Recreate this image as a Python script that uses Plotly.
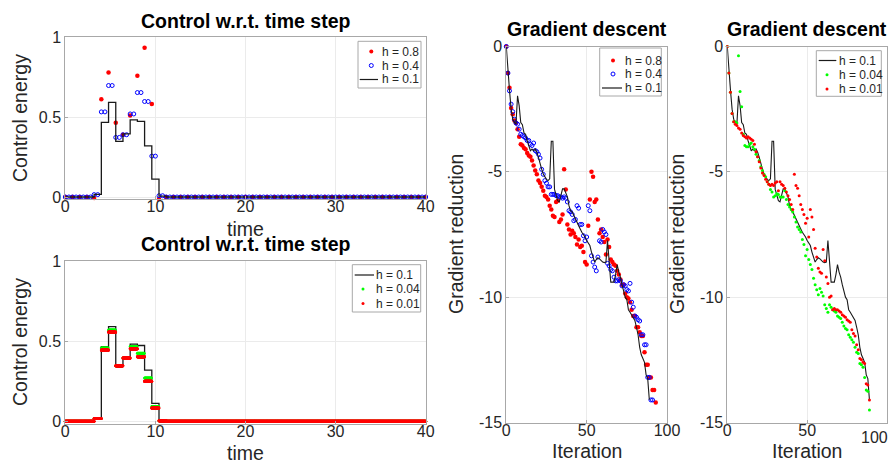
import numpy as np
import plotly.graph_objects as go

W, H = 896, 463


def px(x):
    return x / W


def py(y):
    return 1 - y / H


# ---------------- control energy (values on 0.8-wide intervals) ----------------
# h = 0.8 samples, t = 0, 0.8, ..., 40
ctrl_h08 = [0.0] * 4 + [-0.006, 0.612, 0.78, 0.465, 0.39, 0.51, 0.76, 0.935, 0.583, -0.0125] + [0.0] * 37
# h = 0.4 samples, t = 0, 0.4, ..., 40
ctrl_h04 = ([0.0] * 8
            + [0.015, 0.015, 0.533, 0.533, 0.698, 0.698, 0.373, 0.373, 0.39, 0.39,
               0.52, 0.52, 0.654, 0.654, 0.598, 0.598, 0.256, 0.256, 0.008, 0.008]
            + [0.0] * 73)
# h = 0.1 curve, step starts and values
ctrl_h01_t = [0, 3.2, 4.0, 4.8, 5.6, 6.4, 7.2, 8.0, 8.8, 9.6, 10.4, 11.2, 40]
ctrl_h01 = [0, 0.017, 0.467, 0.592, 0.348, 0.395, 0.483, 0.474, 0.32, 0.112, 0.005, 0, 0]
# h = 0.04 and h = 0.01, value on each 0.8 interval
ctrl_h004_steps = [0.0] * 4 + [0.017, 0.458, 0.571, 0.348, 0.396, 0.467, 0.425, 0.271, 0.092, 0.004] + [0.0] * 36
ctrl_h001_steps = [0.0] * 4 + [0.017, 0.446, 0.558, 0.348, 0.396, 0.454, 0.404, 0.25, 0.083, 0.004] + [0.0] * 36

# ---------------- gradient descent (log gradient reduction per iteration) ----------------
grad_h08 = [0, -1.06, -1.65, -2.45, -2.7, -2.95, -3.05, -3.3, -3.6, -3.9,
            -3.95, -4.05, -4.1, -4.25, -4.35, -4.4, -4.55, -4.75, -4.95, -5.1,
            -5.35, -5.45, -5.6, -5.75, -5.95, -6.0, -6.1, -6.35, -6.5, -6.75,
            -6.8, -6.2, -6.15, -7.0, -6.9, -6.7, -4.9, -5.7, -7.1, -7.3,
            -7.5, -7.35, -7.45, -7.6, -7.9, -7.7, -8.0, -7.95, -8.2, -8.6,
            -8.7, -7.15, -6.1, -5.0, -5.2, -6.2, -6.1, -6.9, -7.45, -7.3,
            -7.6, -7.8, -8.3, -7.7, -8.0, -8.5, -8.6, -8.7, -8.75, -8.95,
            -9.1, -9.3, -9.5, -9.5, -9.85, -10.0, -10.05, -10.2, -10.5, -10.75,
            -10.75, -11.2, -11.2, -11.4, -11.55, -11.55, -12.2, -12.7, -12.7, -13.2,
            -13.2, -13.7, -13.7, -14.2]
grad_h04 = [0, -1.06, -1.77, -2.3, -2.6, -2.9, -3.05, -3.1, -3.3, -3.5,
            -3.55, -3.6, -3.65, -3.75, -3.75, -3.9, -3.95, -3.85, -4.15, -4.2,
            -4.3, -4.45, -4.9, -5.1, -5.35, -5.45, -5.6, -5.6, -5.9, -5.9,
            -5.9, -5.95, -5.95, -6.0, -6.0, -6.05, -6.0, -6.05, -6.2, -6.55,
            -6.6, -6.7, -6.95, -6.9, -6.35, -6.45, -7.1, -7.1, -7.55, -7.75,
            -7.6, -6.35, -6.55, -8.35, -8.6, -8.8, -8.95, -8.4, -7.75, -7.8,
            -7.3, -7.4, -7.5, -8.65, -8.75, -8.9, -8.95, -9.2, -9.35, -9.35,
            -9.3, -9.35, -9.55, -9.5, -9.55, -9.7, -9.75, -9.45, -10.2, -10.4,
            -10.75, -10.8, -10.9, -10.95, -11.5, -11.5, -11.9, -11.9, -13.2, -13.2,
            -14.1, -14.1]
grad_h01 = [0, -1.1, -1.75, -2.5, -2.9, -3.03, -3.1, -1.97, -2.36, -3.03,
            -3.12, -3.45, -3.5, -3.76, -4.02, -4.16, -4.09, -4.16, -4.09, -4.22,
            -4.42, -4.69, -4.89, -5.09, -5.22, -5.3, -5.35, -5.28, -3.78, -3.78,
            -5.7, -5.95, -6.15, -6.2, -5.95, -5.68, -5.68, -5.82, -6.0, -6.35,
            -6.55, -6.6, -6.75, -6.88, -7.0, -7.14, -7.28, -7.41, -7.5, -7.6,
            -7.74, -7.85, -7.94, -8.2, -8.45, -8.6, -8.5, -8.43, -8.47, -8.55,
            -8.6, -8.62, -8.6, -7.74, -8.5, -9.4, -9.4, -9.4, -9.1, -8.7,
            -9.0, -9.2, -9.5, -9.73, -10.0, -10.1, -10.5, -10.6, -10.73, -10.85,
            -10.93, -11.2, -11.5, -12.0, -12.3, -12.45, -12.6, -13.1, -13.25, -14.09]
grad_h004 = [0, -1.06, -1.83, -2.67, -3.0, -3.0, -3.05, -0.37, -1.8, -2.4,
             -3.5, -3.95, -4.0, -4.0, -3.9, -3.85, -4.0, -4.1, -4.3, -4.4,
             -4.55, -4.8, -4.95, -5.1, -5.2, -5.4, -5.5, -5.7, -5.8, -6.0,
             -5.95, -5.87, -5.9, -6.0, -6.0, -6.0, -5.75, -6.1, -6.3, -6.4,
             -6.5, -6.6, -6.8, -7.0, -7.2, -7.3, -7.4, -7.7, -7.9, -8.35,
             -8.1, -8.5, -8.7, -8.9, -9.25, -9.5, -9.7, -9.9, -9.65, -9.8,
             -9.95, -10.3, -10.45, -10.6, -10.3, -10.4, -10.5, -10.55, -10.6, -10.75,
             -10.8, -10.85, -11.0, -11.15, -11.25, -11.3, -11.5, -11.6, -11.7, -11.8,
             -12.0, -12.2, -12.25, -12.65, -12.7, -12.8, -13.2, -13.7, -13.75, -14.5]
grad_h001 = [0, -1.06, -1.83, -2.67, -3.0, -3.1, -3.15, -3.25, -3.3, -3.45,
             -3.55, -3.6, -3.65, -3.6, -3.65, -3.7, -3.75, -3.9, -4.2, -4.4,
             -4.6, -4.85, -5.05, -5.15, -5.3, -5.4, -5.5, -5.55, -5.5, -5.55,
             -5.45, -5.4, -5.75, -5.4, -5.5, -5.55, -5.65, -5.8, -5.95, -6.1,
             -6.3, -6.5, -5.1, -5.55, -5.65, -5.95, -6.3, -6.5, -6.7, -7.05,
             -6.85, -7.6, -6.5, -6.8, -7.3, -8.05, -8.4, -8.85, -9.0, -9.05,
             -8.1, -8.55, -9.2, -9.45, -10.0, -9.95, -10.5, -10.45, -10.5, -10.5,
             -10.55, -10.6, -10.7, -10.75, -10.8, -10.9, -10.95, -11.0, -11.3, -11.45,
             -11.55, -11.9, -12.1, -12.45, -12.5, -12.6, -12.65, -13.45, -13.5, -14.1]


def sample_steps(steps, h):
    # piecewise constant control sampled with step h
    t = np.round(np.arange(0, 40 + h / 2, h), 6)
    k = np.minimum((t / 0.8 + 1e-9).astype(int), len(steps) - 1)
    return t, np.array(steps)[k]


RED, BLUE, GREEN, BLACK = "#ff0000", "#0000ff", "#00ff00", "#1a1a1a"
FONT = "Liberation Sans, Arial, sans-serif"
GRAY = "#a8a8a8"

fig = go.Figure()

# ---- top left
fig.add_trace(go.Scatter(x=np.arange(len(ctrl_h08)) * 0.8, y=ctrl_h08, mode="markers",
                         marker=dict(color=RED, size=4.5), cliponaxis=False, xaxis="x", yaxis="y"))
fig.add_trace(go.Scatter(x=np.arange(len(ctrl_h04)) * 0.4, y=ctrl_h04, mode="markers",
                         marker=dict(color=BLUE, size=4, symbol="circle-open", line=dict(width=1)),
                         cliponaxis=False, xaxis="x", yaxis="y"))
fig.add_trace(go.Scatter(x=ctrl_h01_t, y=ctrl_h01, mode="lines", line=dict(color=BLACK, width=1.3, shape="hv"),
                         xaxis="x", yaxis="y"))

# ---- bottom left
fig.add_trace(go.Scatter(x=ctrl_h01_t, y=ctrl_h01, mode="lines", line=dict(color=BLACK, width=1.3, shape="hv"),
                         xaxis="x2", yaxis="y2"))
t004, u004 = sample_steps(ctrl_h004_steps, 0.04)
fig.add_trace(go.Scatter(x=t004, y=u004, mode="markers", marker=dict(color=GREEN, size=3),
                         cliponaxis=False, xaxis="x2", yaxis="y2"))
t001, u001 = sample_steps(ctrl_h001_steps, 0.01)
fig.add_trace(go.Scatter(x=t001, y=u001, mode="markers", marker=dict(color=RED, size=3),
                         cliponaxis=False, xaxis="x2", yaxis="y2"))

# ---- middle
fig.add_trace(go.Scatter(x=list(range(len(grad_h08))), y=grad_h08, mode="markers",
                         marker=dict(color=RED, size=4.5), cliponaxis=False, xaxis="x3", yaxis="y3"))
fig.add_trace(go.Scatter(x=list(range(len(grad_h04))), y=grad_h04, mode="markers",
                         marker=dict(color=BLUE, size=4, symbol="circle-open", line=dict(width=1)),
                         cliponaxis=False, xaxis="x3", yaxis="y3"))
fig.add_trace(go.Scatter(x=list(range(len(grad_h01))), y=grad_h01, mode="lines",
                         line=dict(color=BLACK, width=1.1), xaxis="x3", yaxis="y3"))

# ---- right
fig.add_trace(go.Scatter(x=list(range(len(grad_h01))), y=grad_h01, mode="lines",
                         line=dict(color=BLACK, width=1.1), xaxis="x4", yaxis="y4"))
fig.add_trace(go.Scatter(x=list(range(len(grad_h004))), y=grad_h004, mode="markers",
                         marker=dict(color=GREEN, size=3), cliponaxis=False, xaxis="x4", yaxis="y4"))
fig.add_trace(go.Scatter(x=list(range(len(grad_h001))), y=grad_h001, mode="markers",
                         marker=dict(color=RED, size=3), cliponaxis=False, xaxis="x4", yaxis="y4"))

axis_style = dict(showline=True, mirror=True, linecolor=GRAY, linewidth=1,
                  showgrid=True, gridcolor="#ebebeb", zeroline=False,
                  ticks="inside", ticklen=3, tickcolor=GRAY,
                  tickfont=dict(size=16, color="#262626", family=FONT), automargin=False)
x_style = dict(axis_style, ticklabelstandoff=-7)
y_ticks_ctrl = dict(tickvals=[0, 0.5, 1], ticktext=["0", "0.5", "1"])
y_ticks_grad = dict(tickvals=[-15, -10, -5, 0], ticktext=["-15", "-10", "-5", "0"])

left_x = [px(57.3), px(417.7)]
fig.update_layout(
    xaxis=dict(domain=left_x, range=[0, 40], dtick=10, anchor="y", **x_style),
    yaxis=dict(domain=[py(191), py(29.3)], range=[-0.0125, 1], anchor="x", **y_ticks_ctrl, **axis_style),
    xaxis2=dict(domain=left_x, range=[0, 40], dtick=10, anchor="y2", **x_style),
    yaxis2=dict(domain=[py(415.5), py(253.3)], range=[-0.0135, 1], anchor="x2", **y_ticks_ctrl, **axis_style),
    xaxis3=dict(domain=[px(498.3), px(659)], range=[0, 100], tickvals=[0, 50, 100], anchor="y3", **x_style),
    yaxis3=dict(domain=[py(414.5), py(38.5)], range=[-15, 0], anchor="x3", **y_ticks_grad, **axis_style),
    xaxis4=dict(domain=[px(719.3), px(879)], range=[0, 100], tickvals=[0, 50, 100], ticktext=["0", "50", ""],
                anchor="y4", **x_style),
    yaxis4=dict(domain=[py(414.5), py(38.5)], range=[-15, 0], anchor="x4", **y_ticks_grad, **axis_style),
)

annotations = []
shapes = []


def label(text, x, y, size=19.5, bold=False, angle=0, anchor="center", color=None):
    annotations.append(dict(text=f"<b>{text}</b>" if bold else text, x=px(x), y=py(y), xref="paper", yref="paper",
                            showarrow=False, textangle=angle, xanchor=anchor, yanchor="middle",
                            font=dict(size=size, family=FONT,
                                      color=color or ("black" if bold else "#262626"))))


def legend_box(box, rows_y, line_x, marker_x, text_x, entries):
    x0, y0, x1, y1 = box
    shapes.append(dict(type="rect", xref="paper", yref="paper", x0=px(x0), x1=px(x1), y0=py(y1), y1=py(y0),
                       line=dict(color=GRAY, width=1), fillcolor="white", layer="above"))
    for ry, (name, kind, color) in zip(rows_y, entries):
        if kind == "line":
            shapes.append(dict(type="line", xref="paper", yref="paper", x0=px(line_x[0]), x1=px(line_x[1]),
                               y0=py(ry), y1=py(ry), line=dict(color=color, width=1.2), layer="above"))
        else:
            r = 1.5 if kind == "small" else 2
            ring = kind == "ring"
            shapes.append(dict(type="circle", xref="paper", yref="paper",
                               x0=px(marker_x - r), x1=px(marker_x + r), y0=py(ry + r), y1=py(ry - r),
                               line=dict(color=color, width=1 if ring else 0),
                               fillcolor="rgba(0,0,0,0)" if ring else color, layer="above"))
        label(name, text_x, ry, size=12, anchor="left")


legend_box((350, 33.3, 413, 80), [43.5, 57.5, 71.5], (351.7, 370), 363.3, 371.5,
           [("h = 0.8", "dot", RED), ("h = 0.4", "ring", BLUE), ("h = 0.1", "line", BLACK)])
legend_box((344.3, 256.7, 412.7, 304), [267, 281, 295.5], (346.7, 366), 355, 366,
           [("h = 0.1", "line", BLACK), ("h = 0.04", "small", GREEN), ("h = 0.01", "small", RED)])
legend_box((591.7, 40, 653.3, 88), [52.5, 66, 80], (594, 614), 605, 614.5,
           [("h = 0.8", "dot", RED), ("h = 0.4", "ring", BLUE), ("h = 0.1", "line", BLACK)])
legend_box((808.3, 42.7, 873.3, 88.3), [52.5, 66.7, 81], (810.7, 828.3), 819, 828.5,
           [("h = 0.1", "line", BLACK), ("h = 0.04", "small", GREEN), ("h = 0.01", "small", RED)])

label("Control w.r.t. time step", 237.5, 13, bold=True)
label("Control w.r.t. time step", 237.5, 236, bold=True)
label("Gradient descent", 579, 21, bold=True)
label("Gradient descent", 799, 21, bold=True)
label("time", 237.5, 221)
label("time", 237.5, 445)
label("Iteration", 579, 443)
label("Iteration", 799, 443)
label("Control energy", 12, 110, angle=-90)
label("Control energy", 12, 334, angle=-90)
label("Gradient reduction", 448, 226, angle=-90)
label("Gradient reduction", 669, 226, angle=-90)
label("100", 866, 429, size=16)

fig.update_layout(
    width=W, height=H, margin=dict(l=0, r=0, t=0, b=0),
    paper_bgcolor="white", plot_bgcolor="white",
    font=dict(family=FONT), annotations=annotations, shapes=shapes, showlegend=False,
)

fig.write_html("out.html")
